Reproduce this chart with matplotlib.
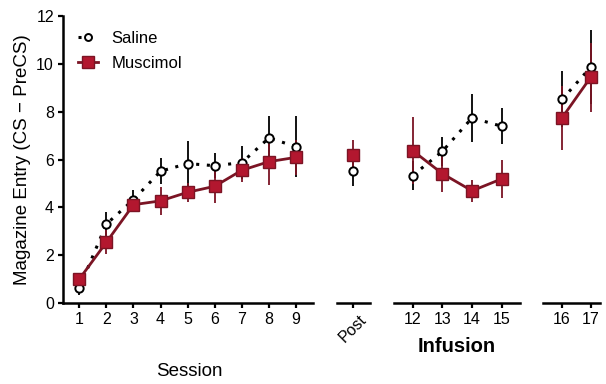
import numpy as np
import matplotlib.pyplot as plt
from matplotlib.lines import Line2D

plt.rcParams['font.family'] = ['Liberation Sans', 'DejaVu Sans']

# Training sessions
sessions = [1, 2, 3, 4, 5, 6, 7, 8, 9]
saline_train = [0.63, 3.3, 4.32, 5.51, 5.83, 5.74, 5.87, 6.9, 6.54]
saline_train_err = [0.3, 0.5, 0.4, 0.55, 0.93, 0.53, 0.7, 0.9, 1.27]
muscimol_train = [1.0, 2.54, 4.11, 4.27, 4.63, 4.88, 5.55, 5.91, 6.09]
muscimol_train_err = [0.2, 0.5, 0.3, 0.6, 0.4, 0.7, 0.5, 0.96, 0.72]

# Post session
post = [10]
saline_post = [5.51]
saline_post_err = [0.6]
muscimol_post = [6.18]
muscimol_post_err = [0.65]

# Infusion sessions
infusion = [12, 13, 14, 15]
saline_inf = [5.33, 6.34, 7.74, 7.39]
saline_inf_err = [0.6, 0.6, 1.0, 0.75]
muscimol_inf = [6.37, 5.41, 4.69, 5.19]
muscimol_inf_err = [1.4, 0.75, 0.45, 0.78]

# Recovery sessions
recovery = [16, 17]
saline_rec = [8.51, 9.86]
saline_rec_err = [1.17, 1.55]
muscimol_rec = [7.74, 9.44]
muscimol_rec_err = [1.33, 1.45]

RED_LINE = '#7b1424'
RED_FILL = '#b3172f'
DOTS = (0, (1, 2.5))

W, H = 606, 384
fig = plt.figure(figsize=(W / 100, H / 100), dpi=100)


def px_axes(x0, x1, y0=16, y1=303):
    return fig.add_axes([x0 / W, 1 - y1 / H, (x1 - x0) / W, (y1 - y0) / H])


def draw_group(ax, x, sal, sal_err, mus, mus_err):
    ax.errorbar(x, sal, yerr=sal_err, fmt='none', ecolor='black', elinewidth=1.3,
                capsize=0, zorder=2)
    ax.errorbar(x, mus, yerr=mus_err, fmt='none', ecolor=RED_LINE, elinewidth=1.3,
                capsize=0, zorder=2)
    ax.plot(x, sal, linestyle=DOTS, color='black', linewidth=2.2,
            marker='o', markersize=6, markerfacecolor='white',
            markeredgecolor='black', markeredgewidth=1.4, zorder=3)
    ax.plot(x, mus, linestyle='-', color=RED_LINE, linewidth=2,
            marker='s', markersize=9, markerfacecolor=RED_FILL,
            markeredgecolor=RED_LINE, markeredgewidth=1, zorder=4)


def style_axes(ax, ticks, labels, show_y=False):
    ax.set_ylim(0, 12)
    ax.set_xticks(ticks)
    ax.set_xticklabels(labels)
    for s in ['top', 'right']:
        ax.spines[s].set_visible(False)
    ax.spines['bottom'].set_linewidth(1.8)
    ax.spines['left'].set_linewidth(1.8)
    ax.tick_params(axis='both', direction='out', length=3.5, width=1.6,
                   labelsize=11.5, pad=3)
    if show_y:
        ax.set_yticks(np.arange(0, 13, 2))
    else:
        ax.spines['left'].set_visible(False)
        ax.set_yticks([])
    ax.patch.set_alpha(0)


# segment 1: sessions 1-9
ax1 = px_axes(63, 313)
draw_group(ax1, sessions, saline_train, saline_train_err, muscimol_train, muscimol_train_err)
style_axes(ax1, sessions, [str(s) for s in sessions], show_y=True)
ax1.set_xlim(1 - 16.3 / 27.1, 9 + 17 / 27.1)
ax1.set_ylabel('Magazine Entry (CS \u2212 PreCS)', fontsize=13.5, labelpad=4)

# segment 2: post
ax2 = px_axes(337, 370)
draw_group(ax2, post, saline_post, saline_post_err, muscimol_post, muscimol_post_err)
style_axes(ax2, post, ['Post'])
ax2.set_xlim(10 - 16 / 28, 10 + 17 / 28)
for lab in ax2.get_xticklabels():
    lab.set_rotation(45)
    lab.set_ha('center')

# segment 3: infusion 12-15
ax3 = px_axes(394, 520)
draw_group(ax3, infusion, saline_inf, saline_inf_err, muscimol_inf, muscimol_inf_err)
style_axes(ax3, infusion, [str(s) for s in infusion])
ax3.set_xlim(12 - 18.7 / 29.7, 15 + 18.3 / 29.7)

# segment 4: 16-17
ax4 = px_axes(543, 600)
draw_group(ax4, recovery, saline_rec, saline_rec_err, muscimol_rec, muscimol_rec_err)
style_axes(ax4, recovery, [str(s) for s in recovery])
ax4.set_xlim(16 - 19 / 28.7, 17 + 9.3 / 28.7)

fig.text(189 / W, 1 - 372 / H, 'Session', ha='center', va='center', fontsize=13.5)
fig.text(457 / W, 1 - 346 / H, 'Infusion', ha='center', va='center', fontsize=14.5,
         fontweight='bold')

handles = [
    Line2D([], [], linestyle=DOTS, color='black', linewidth=2.2,
           marker='o', markersize=5, markerfacecolor='white',
           markeredgecolor='black', markeredgewidth=1.4),
    Line2D([], [], linestyle='-', color=RED_LINE, linewidth=2,
           marker='s', markersize=9, markerfacecolor=RED_FILL,
           markeredgecolor=RED_LINE, markeredgewidth=1),
]
ax1.legend(handles, ['Saline', 'Muscimol'], loc='upper left', frameon=False,
           fontsize=12, handlelength=1.2, handletextpad=0.8, labelspacing=0.6,
           bbox_to_anchor=(0.0, 1.0))

fig.savefig('out.png', dpi=100)
